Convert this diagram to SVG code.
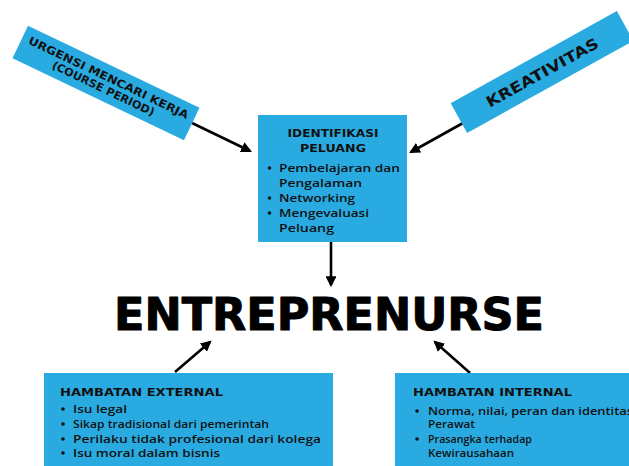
<svg xmlns="http://www.w3.org/2000/svg" width="629" height="466" viewBox="0 0 629 466">
  <style>
    .box { fill: #29abe2; }
    .head { font-family: "DejaVu Sans", "Liberation Sans", sans-serif; font-weight: 700; fill: #111; }
    .body { font-family: "Open Sans", "Liberation Sans", sans-serif; font-weight: 600; fill: #111; }
    .big { font-family: "DejaVu Sans", "Liberation Sans", sans-serif; font-weight: 700; fill: #000; stroke: #000; stroke-width: 1; stroke-linejoin: round; font-size: 44px; }
    .conn { stroke: #000; stroke-width: 2.6; fill: none; marker-end: url(#arrow); }
  </style>
  <defs>
    <marker id="arrow" viewBox="0 0 10 10" refX="8" refY="5" markerWidth="4.2" markerHeight="4.2" orient="auto" markerUnits="strokeWidth">
      <path d="M0,0 L10,5 L0,10 z" fill="#000"/>
    </marker>
  </defs>
  <rect width="629" height="466" fill="#fff"/>

  <!-- connectors -->
  <g id="connectors">
    <line class="conn" x1="192" y1="123" x2="250" y2="151"/>
    <line class="conn" x1="463" y1="123" x2="411" y2="152"/>
    <line class="conn" x1="331" y1="241" x2="331" y2="285"/>
    <line class="conn" x1="175" y1="372" x2="210" y2="342"/>
    <line class="conn" x1="470" y1="373" x2="435" y2="342"/>
  </g>

  <!-- tilted tag: urgency -->
  <g id="urgensi" transform="translate(106,83) rotate(25.5)">
    <rect class="box" x="-95" y="-18" width="190" height="36"/>
    <text class="head" x="0" y="-2" font-size="11" text-anchor="middle" textLength="176" lengthAdjust="spacingAndGlyphs">URGENSI MENCARI KERJA</text>
    <text class="head" x="0" y="10" font-size="11" text-anchor="middle" textLength="112" lengthAdjust="spacingAndGlyphs">(COURSE PERIOD)</text>
  </g>

  <!-- tilted tag: creativity -->
  <g id="kreativitas" transform="translate(542,72) rotate(-29)">
    <rect class="box" x="-95" y="-17" width="190" height="34"/>
    <text class="head" x="0" y="6" font-size="15" text-anchor="middle" textLength="126" lengthAdjust="spacingAndGlyphs">KREATIVITAS</text>
  </g>

  <!-- opportunity box -->
  <g id="identifikasi">
    <rect class="box" x="258" y="115" width="149" height="127"/>
    <text class="head" x="333" y="137" font-size="11" text-anchor="middle" textLength="91" lengthAdjust="spacingAndGlyphs">IDENTIFIKASI</text>
    <text class="head" x="333" y="152" font-size="11" text-anchor="middle" textLength="66" lengthAdjust="spacingAndGlyphs">PELUANG</text>
    <g class="body" font-size="11">
      <circle cx="269.5" cy="168" r="1.8" fill="#111"/>
      <text x="279" y="172" textLength="121" lengthAdjust="spacingAndGlyphs">Pembelajaran dan</text>
      <text x="279" y="187" textLength="83" lengthAdjust="spacingAndGlyphs">Pengalaman</text>
      <circle cx="269.5" cy="198" r="1.8" fill="#111"/>
      <text x="279" y="202" textLength="76" lengthAdjust="spacingAndGlyphs">Networking</text>
      <circle cx="269.5" cy="213" r="1.8" fill="#111"/>
      <text x="279" y="217" textLength="90" lengthAdjust="spacingAndGlyphs">Mengevaluasi</text>
      <text x="279" y="232" textLength="55" lengthAdjust="spacingAndGlyphs">Peluang</text>
    </g>
  </g>

  <!-- central title -->
  <g id="entreprenurse">
    <text class="big" x="114" y="330" textLength="430" lengthAdjust="spacingAndGlyphs">ENTREPRENURSE</text>
  </g>

  <!-- external barriers -->
  <g id="hambatan-external">
    <rect class="box" x="44" y="373" width="289" height="100"/>
    <text class="head" x="60" y="396" font-size="11" textLength="163" lengthAdjust="spacingAndGlyphs">HAMBATAN EXTERNAL</text>
    <g class="body" font-size="11">
      <circle cx="63" cy="409" r="1.8" fill="#111"/>
      <text x="73" y="413" textLength="54" lengthAdjust="spacingAndGlyphs">Isu legal</text>
      <circle cx="63" cy="424" r="1.8" fill="#111"/>
      <text x="73" y="428" textLength="196" lengthAdjust="spacingAndGlyphs">Sikap tradisional dari pemerintah</text>
      <circle cx="63" cy="439" r="1.8" fill="#111"/>
      <text x="73" y="443" textLength="248" lengthAdjust="spacingAndGlyphs">Perilaku tidak profesional dari kolega</text>
      <circle cx="63" cy="453" r="1.8" fill="#111"/>
      <text x="73" y="457" textLength="147" lengthAdjust="spacingAndGlyphs">Isu moral dalam bisnis</text>
    </g>
  </g>

  <!-- internal barriers -->
  <g id="hambatan-internal">
    <rect class="box" x="395" y="373" width="240" height="100"/>
    <text class="head" x="413" y="396" font-size="11" textLength="159" lengthAdjust="spacingAndGlyphs">HAMBATAN INTERNAL</text>
    <g class="body" font-size="10.5">
      <circle cx="417" cy="411" r="1.8" fill="#111"/>
      <text x="428" y="415" textLength="205" lengthAdjust="spacingAndGlyphs">Norma, nilai, peran dan identitas</text>
      <text x="428" y="428" textLength="47" lengthAdjust="spacingAndGlyphs">Perawat</text>
      <circle cx="417" cy="439" r="1.8" fill="#111"/>
      <text x="428" y="443" textLength="104" lengthAdjust="spacingAndGlyphs">Prasangka terhadap</text>
      <text x="428" y="457" textLength="86" lengthAdjust="spacingAndGlyphs">Kewirausahaan</text>
    </g>
  </g>
</svg>
